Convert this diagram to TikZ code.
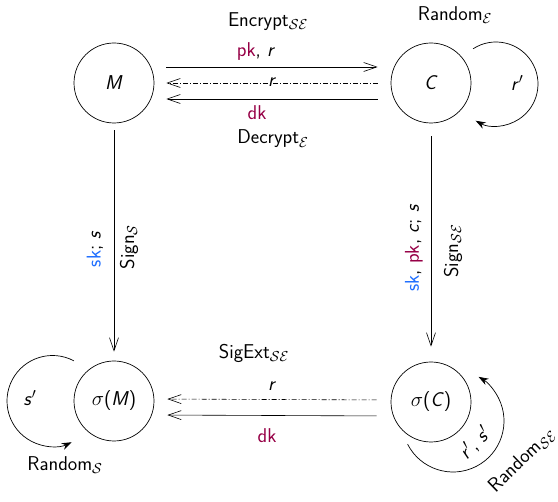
\documentclass[tikz,border=0pt]{standalone}
\usetikzlibrary{arrows.meta}
\definecolor{kred}{RGB}{150,0,70}
\definecolor{kblue}{RGB}{30,110,255}
\newcommand{\vv}[1]{\textsl{#1}}
\newcommand{\pr}{$^{\prime}$}
\begin{document}
\begin{tikzpicture}[x=1pt,y=-1pt,
  every node/.style={font=\fontsize{20}{24}\selectfont\sffamily},
  state/.style={draw,circle,minimum size=80pt,inner sep=0pt,line width=0.7pt},
  arr/.style={line width=0.6pt,-{Straight Barb[length=13pt,width=9pt]}},
  dd/.style={dash pattern=on 5pt off 2pt on 1pt off 2pt},
  lp/.style={line width=0.7pt,-{Stealth[length=10pt,width=7pt]}}]
\useasboundingbox (0,0) rectangle (558,502);
\node[state] (M) at (114,83) {\vv{M}};
\node[state] (C) at (431,83) {\vv{C}};
\node[state] (SM) at (114,401) {$\sigma$(\vv{M})};
\node[state] (SC) at (431,402) {$\sigma$(\vv{C})};
% top arrows
\draw[arr,shorten <=12pt,shorten >=13pt] ([yshift=16pt]M.east) -- ([yshift=16pt]C.west);
\draw[arr,dd,shorten <=13pt,shorten >=12pt] (C.west) -- (M.east);
\draw[arr,shorten <=13pt,shorten >=12pt] ([yshift=-16pt]C.west) -- ([yshift=-16pt]M.east);
% vertical arrows
\draw[arr,shorten <=7pt,shorten >=9pt] (M.south) -- (SM.north);
\draw[arr,shorten <=13pt,shorten >=15pt] (C.south) -- (SC.north);
% bottom arrows
\draw[arr,dd,shorten <=14pt,shorten >=13pt] ([yshift=2pt]SC.west) -- ([yshift=2pt]SM.east);
\draw[arr,shorten <=14pt,shorten >=13pt] ([yshift=-14pt]SC.west) -- ([yshift=-14pt]SM.east);
% loops
\coordinate (lc) at ([shift={(65pt,-1pt)}]C.center);
\draw[lp] ([shift={(123:42pt)}]lc) arc[start angle=123,end angle=-119,radius=42pt];
\coordinate (lm) at ([shift={(-61.5pt,0pt)}]SM.center);
\draw[lp] ([shift={(62:45.5pt)}]lm) arc[start angle=62,end angle=295,radius=45.5pt];
\coordinate (ls) at ([shift={(22pt,-19pt)}]SC.center);
\draw[lp] ([shift={(207:51pt)}]ls) arc[start angle=207,end angle=420,radius=51pt];
% labels
\node (l1) at (268,22) {Encrypt$_{\mathcal{S}\mathcal{E}}$};
\node (l2) at (256,52) {\textcolor{kred}{pk}, \vv{r}};
\node (l3) at (272,82) {\vv{r}};
\node (l4) at (257,113) {\textcolor{kred}{dk}};
\node (l5) at (273,139) {Decrypt$_{\mathcal{E}}$};
\node[rotate=90] (l6) at (95,249) {\textcolor{kblue}{sk}; \vv{s}};
\node[rotate=90] (l7) at (129,247) {Sign$_{\mathcal{S}}$};
\node[rotate=90] (l8) at (414,248) {\textcolor{kblue}{sk}, \textcolor{kred}{pk}, \vv{c}; \vv{s}};
\node[rotate=90] (l9) at (453,251) {Sign$_{\mathcal{S}\mathcal{E}}$};
\node (l10) at (254,353) {SigExt$_{\mathcal{S}\mathcal{E}}$};
\node (l11) at (272,386) {\vv{r}};
\node (l12) at (267,436) {\textcolor{kred}{dk}};
\node (l13) at (455,15) {Random$_{\mathcal{E}}$};
\node (l14) at (517,83) {\vv{r}\pr};
\node (l15) at (30,398) {\vv{s}\pr};
\node (l16) at (65,465) {Random$_{\mathcal{S}}$};
\node[rotate=46] (l17) at (475,443) {\vv{r}\pr, \vv{s}\pr};
\node[rotate=44] (l18) at (522,460) {Random$_{\mathcal{S}\mathcal{E}}$};
\end{tikzpicture}
\end{document}
